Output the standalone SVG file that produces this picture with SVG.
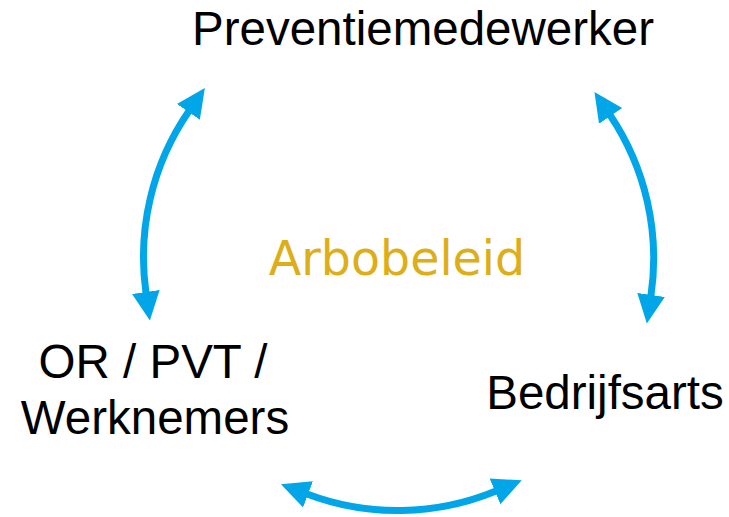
<svg xmlns="http://www.w3.org/2000/svg" width="729" height="517" viewBox="0 0 729 517">
<defs>
<marker id="ah" markerUnits="userSpaceOnUse" markerWidth="30" markerHeight="30" viewBox="0 -14 28 28" refX="1" refY="0" orient="auto-start-reverse">
<path d="M0,-13 L27,0 L0,13 z" fill="#00A6E8"/>
</marker>
<style>
.lbl{font-family:"Liberation Sans",Arial,sans-serif;font-size:47.5px;fill:#000;text-anchor:middle}
.ctr{font-family:"DejaVu Sans",Verdana,sans-serif;font-size:47.5px;fill:#DDAE18;text-anchor:middle}
.con{fill:none;stroke:#00A6E8;stroke-width:7;marker-start:url(#ah);marker-end:url(#ah)}
</style>
</defs>
<rect width="729" height="517" fill="#fff"/>
<g id="connectors">
<path class="con" d="M146,293 A257,257 0 0 1 189,111"/>
<path class="con" d="M610,115 A257,257 0 0 1 650.9,296"/>
<path class="con" d="M307,494 A257,257 0 0 0 496,491"/>
</g>
<g id="preventiemedewerker"><text class="lbl" x="423" y="45">Preventiemedewerker</text></g>
<g id="or-pvt"><text class="lbl" x="153" y="378">OR / PVT /</text><text class="lbl" x="155" y="434">Werknemers</text></g>
<g id="bedrijfsarts"><text class="lbl" x="605" y="409">Bedrijfsarts</text></g>
<g id="arbobeleid"><text class="ctr" x="397" y="275">Arbobeleid</text></g>
</svg>
